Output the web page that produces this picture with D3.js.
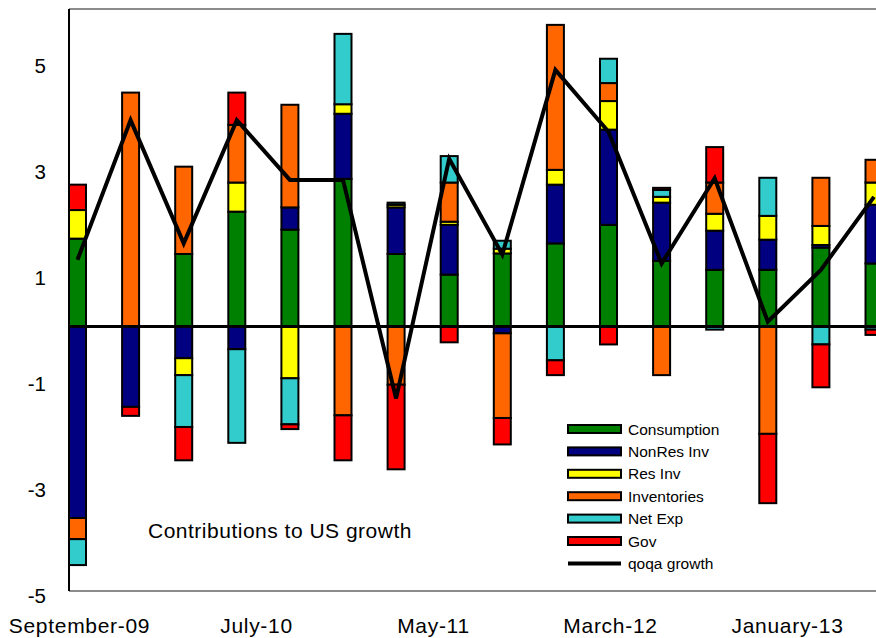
<!DOCTYPE html>
<html lang="en">
<head>
<meta charset="UTF-8">
<title>Contributions to US growth</title>
<script src="https://d3js.org/d3.v7.min.js"></script>
<style>
  body { margin: 0; background: #fff; }
  svg text { font-family: "Liberation Sans", Arial, sans-serif; fill: #000; }
</style>
</head>
<body>
<svg id="chart" width="876" height="638"></svg>
<script>
// months after September-09, one bar per quarter
const months = [0, 3, 6, 9, 12, 15, 18, 21, 24, 27, 30, 33, 36, 39, 42, 45];

const consumption = [1.66, 0, 1.37, 2.17, 1.83, 2.79, 1.37, 0.98, 1.38, 1.57, 1.92, 1.24, 1.07, 1.07, 1.49, 1.19];
const nonResInv   = [-3.62, -1.52, -0.6, -0.43, 0.42, 1.23, 0.88, 0.94, -0.13, 1.11, 1.8, 1.1, 0.74, 0.57, 0.05, 1.11];
const resInv      = [0.54, 0, -0.32, 0.55, -0.98, 0.18, 0.05, 0.06, 0.09, 0.28, 0.54, 0.11, 0.32, 0.45, 0.36, 0.42];
const inventories = [-0.4, 4.42, 1.65, 1.09, 1.94, -1.68, -1.1, 0.74, -1.6, 2.74, 0.34, -0.92, 0.59, -2.03, 0.91, 0.43];
const netExp      = [-0.49, 0, -0.98, -1.77, -0.87, 1.33, 0.04, 0.5, 0.15, -0.64, 0.46, 0.13, -0.06, 0.72, -0.34, -0.06];
const gov         = [0.48, -0.17, -0.63, 0.61, -0.09, -0.85, -1.6, -0.3, -0.5, -0.28, -0.34, 0.04, 0.67, -1.31, -0.81, -0.1];
const growth      = [1.26, 3.9, 1.57, 3.9, 2.77, 2.77, -1.36, 3.17, 1.36, 4.85, 3.68, 1.19, 2.8, 0.09, 1.07, 2.45];

const seriesNames = ["Consumption", "NonRes Inv", "Res Inv", "Inventories", "Net Exp", "Gov"];
const lineName = "qoqa growth";

const tickMonths = [0, 10, 20, 30, 40];
const tickLabels = ["September-09", "July-10", "May-11", "March-12", "January-13"];
const yTicks = [-5, -3, -1, 1, 3, 5];

const colors = ["#008000", "#000080", "#ffff00", "#ff6600", "#33cccc", "#ff0000"];

const svg = d3.select("#chart");
const plotLeft = 69, plotTop = 9, plotBottom = 591;

const x = d3.scaleLinear().domain([0, 45]).range([77.5, 874]);
const y = d3.scaleLinear().domain([-5, 6]).range([plotBottom, plotTop]);

const allSeries = [consumption, nonResInv, resInv, inventories, netExp, gov];
const rows = months.map((m, i) => {
    const r = { month: m };
    seriesNames.forEach((n, k) => { r[n] = allSeries[k][i]; });
    return r;
});

const stacked = d3.stack()
    .keys(seriesNames)
    .offset(d3.stackOffsetDiverging)(rows);

// plot border (grey)
svg.append("line")
    .attr("x1", plotLeft).attr("x2", 876)
    .attr("y1", plotTop).attr("y2", plotTop)
    .attr("stroke", "#8c8c8c").attr("stroke-width", 2);
svg.append("line")
    .attr("x1", plotLeft).attr("x2", 876)
    .attr("y1", plotBottom).attr("y2", plotBottom)
    .attr("stroke", "#8c8c8c").attr("stroke-width", 2);

// bars
const barW = 17;
svg.append("g").selectAll("g")
    .data(stacked)
    .join("g")
    .attr("fill", (d, i) => colors[i])
    .selectAll("rect")
    .data(d => d)
    .join("rect")
    .attr("x", d => x(d.data.month) - barW / 2)
    .attr("y", d => y(Math.max(d[0], d[1])))
    .attr("width", barW)
    .attr("height", d => Math.abs(y(d[0]) - y(d[1])))
    .attr("stroke", "#000")
    .attr("stroke-width", 2);

// y axis line
svg.append("line")
    .attr("x1", plotLeft).attr("x2", plotLeft)
    .attr("y1", plotTop).attr("y2", plotBottom)
    .attr("stroke", "#000").attr("stroke-width", 2);

// zero line
svg.append("line")
    .attr("x1", plotLeft).attr("x2", 876)
    .attr("y1", y(0)).attr("y2", y(0))
    .attr("stroke", "#000").attr("stroke-width", 3);

// growth line
const line = d3.line()
    .x((d, i) => x(months[i]))
    .y(d => y(d));
svg.append("path")
    .datum(growth)
    .attr("d", line)
    .attr("fill", "none")
    .attr("stroke", "#000")
    .attr("stroke-width", 4)
    .attr("stroke-linejoin", "miter");

// y tick labels
svg.append("g").selectAll("text")
    .data(yTicks)
    .join("text")
    .attr("x", 46)
    .attr("y", d => y(d) + 11.5)
    .attr("text-anchor", "end")
    .style("font-size", "20.5px")
    .text(d => d);

// x tick labels
svg.append("g").selectAll("text")
    .data(tickMonths)
    .join("text")
    .attr("x", (d, i) => x(d) + 2)
    .attr("y", 633)
    .attr("text-anchor", "middle")
    .style("font-size", "21px")
    .style("letter-spacing", "0.7px")
    .text((d, i) => tickLabels[i]);

// chart title inside plot
svg.append("text")
    .attr("x", 148)
    .attr("y", 538)
    .style("font-size", "21px")
    .style("letter-spacing", "0.5px")
    .text("Contributions to US growth");

// legend
const legend = svg.append("g").attr("transform", "translate(568,429)");
const rowH = 22.4;
seriesNames.forEach((n, i) => {
    const g = legend.append("g").attr("transform", `translate(0,${i * rowH})`);
    g.append("rect")
        .attr("x", 0).attr("y", -4)
        .attr("width", 53).attr("height", 8)
        .attr("fill", colors[i])
        .attr("stroke", "#000").attr("stroke-width", 2);
    g.append("text")
        .attr("x", 60).attr("y", 5.5)
        .style("font-size", "15.5px")
        .text(n);
});
const lg = legend.append("g").attr("transform", `translate(0,${6 * rowH})`);
lg.append("line")
    .attr("x1", 0).attr("x2", 53)
    .attr("y1", 0).attr("y2", 0)
    .attr("stroke", "#000").attr("stroke-width", 4);
lg.append("text")
    .attr("x", 60).attr("y", 5.5)
    .style("font-size", "15.5px")
    .text(lineName);
</script>
</body>
</html>
